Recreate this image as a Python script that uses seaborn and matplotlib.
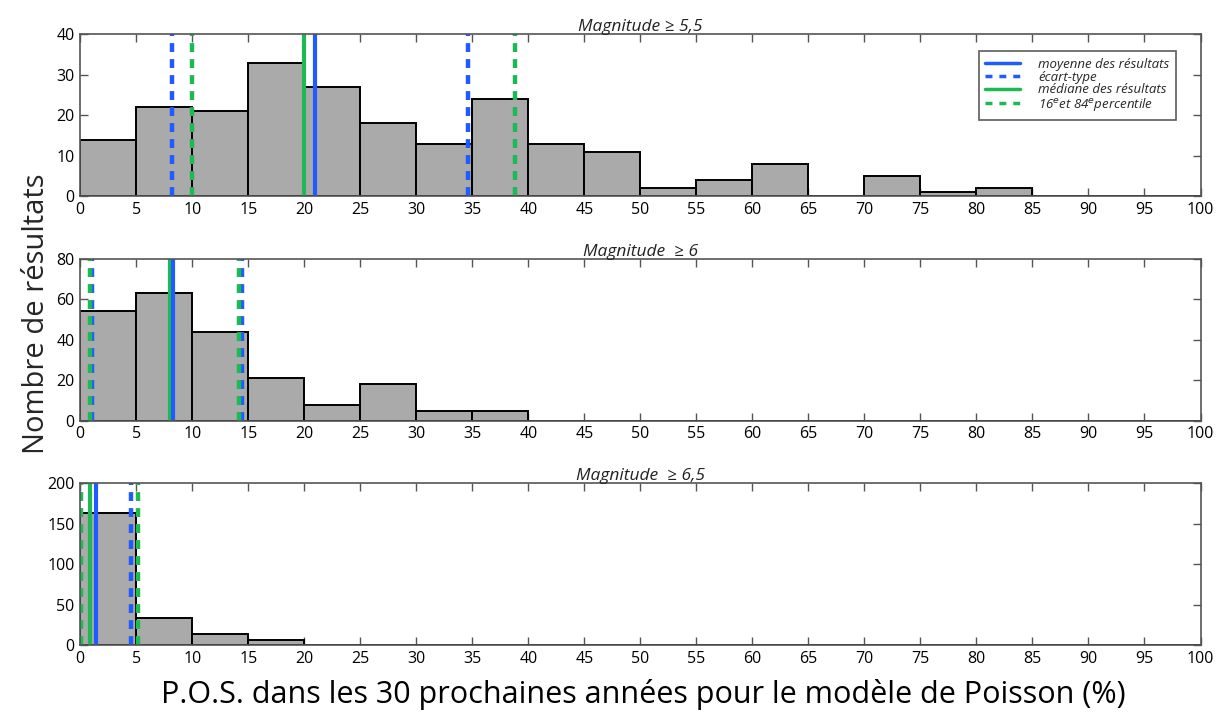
import numpy as np
import pandas as pd
import matplotlib
matplotlib.use("Agg")
import matplotlib.pyplot as plt
import seaborn as sns
from matplotlib.lines import Line2D

# bin edges (%), counts per 5 % bin
bin_edges = list(range(0, 105, 5))
counts_55 = [14, 22, 21, 33, 27, 18, 13, 24, 13, 11, 2, 4, 8, 0, 5, 1, 2, 0, 0, 0]
counts_60 = [54, 63, 44, 21, 8, 18, 5, 5, 0, 0, 0, 0, 0, 0, 0, 0, 0, 0, 0, 0]
counts_65 = [163, 34, 14, 6, 0, 0, 0, 0, 0, 0, 0, 0, 0, 0, 0, 0, 0, 0, 0, 0]

titles = ["Magnitude ≥ 5,5", "Magnitude  ≥ 6", "Magnitude  ≥ 6,5"]
ymax = [40, 80, 200]
ystep = [10, 20, 50]

# mean, mean-std, mean+std, median, p16, p84
means = [21.0, 8.3, 1.45]
std_lo = [8.2, 1.05, -1.7]
std_hi = [34.6, 14.4, 4.55]
medians = [20.0, 8.0, 0.85]
p16 = [10.0, 0.85, 0.1]
p84 = [38.8, 14.2, 5.15]

blue = "#1f5bff"
green = "#1db954"

sns.set_style("ticks")
plt.rcParams['font.family'] = ['Open Sans', 'DejaVu Sans']

fig, axes = plt.subplots(3, 1, figsize=(12.25, 7.13), dpi=100)
fig.subplots_adjust(left=0.0655, right=0.980, top=0.952, bottom=0.095, hspace=0.385)

mids = [(a + b) / 2 for a, b in zip(bin_edges[:-1], bin_edges[1:])]
for i, (ax, cnt) in enumerate(zip(axes, [counts_55, counts_60, counts_65])):
    df = pd.DataFrame({"pos": mids, "n": cnt})
    sns.histplot(data=df, x="pos", weights="n", bins=bin_edges, ax=ax,
                 color="#aaaaaa", alpha=1, edgecolor="black", linewidth=1.4)
    ax.axvline(std_lo[i], color=blue, ls=(0, (2, 1.6)), lw=3.2)
    ax.axvline(std_hi[i], color=blue, ls=(0, (2, 1.6)), lw=3.2)
    ax.axvline(p16[i], color=green, ls=(0, (2, 1.6)), lw=3.2)
    ax.axvline(p84[i], color=green, ls=(0, (2, 1.6)), lw=3.2)
    ax.axvline(medians[i], color=green, lw=3)
    ax.axvline(means[i], color=blue, lw=3)
    ax.set_xlim(0, 100)
    ax.set_ylim(0, ymax[i])
    ax.set_xticks(range(0, 105, 5))
    ax.set_yticks(range(0, ymax[i] + 1, ystep[i]))
    ax.tick_params(direction="in", top=True, right=True, labelsize=11.5,
                   length=6, width=1, color="#555555", pad=4, labelcolor="black")
    ax.set_xlabel("")
    ax.set_ylabel("")
    ax.set_title(titles[i], style="italic", fontsize=12.5, pad=2, color="#222222")
    for s in ax.spines.values():
        s.set_color("#555555")
        s.set_linewidth(1.2)

handles = [
    Line2D([], [], color=blue, lw=2.5),
    Line2D([], [], color=blue, lw=2.5, ls=(0, (2, 2))),
    Line2D([], [], color=green, lw=2.5),
    Line2D([], [], color=green, lw=2.5, ls=(0, (2, 2))),
]
labels = ["moyenne des résultats", "écart-type", "médiane des résultats",
          "16$^e$et 84$^e$percentile"]
leg = axes[0].legend(handles, labels, loc="upper right", bbox_to_anchor=(0.978, 0.895),
                     prop={"style": "italic", "size": 9.5},
                     frameon=True, fancybox=False, edgecolor="#333333",
                     handlelength=2.6, labelspacing=-0.02, borderpad=0.5,
                     handletextpad=1.4, borderaxespad=0)
leg.get_frame().set_linewidth(1.2)

fig.supylabel("Nombre de résultats", fontsize=21, x=0.018, y=0.56)
fig.supxlabel("P.O.S. dans les 30 prochaines années pour le modèle de Poisson (%)",
              fontsize=22, x=0.525, y=0.004, color="black")

fig.savefig("out.png", dpi=100)
